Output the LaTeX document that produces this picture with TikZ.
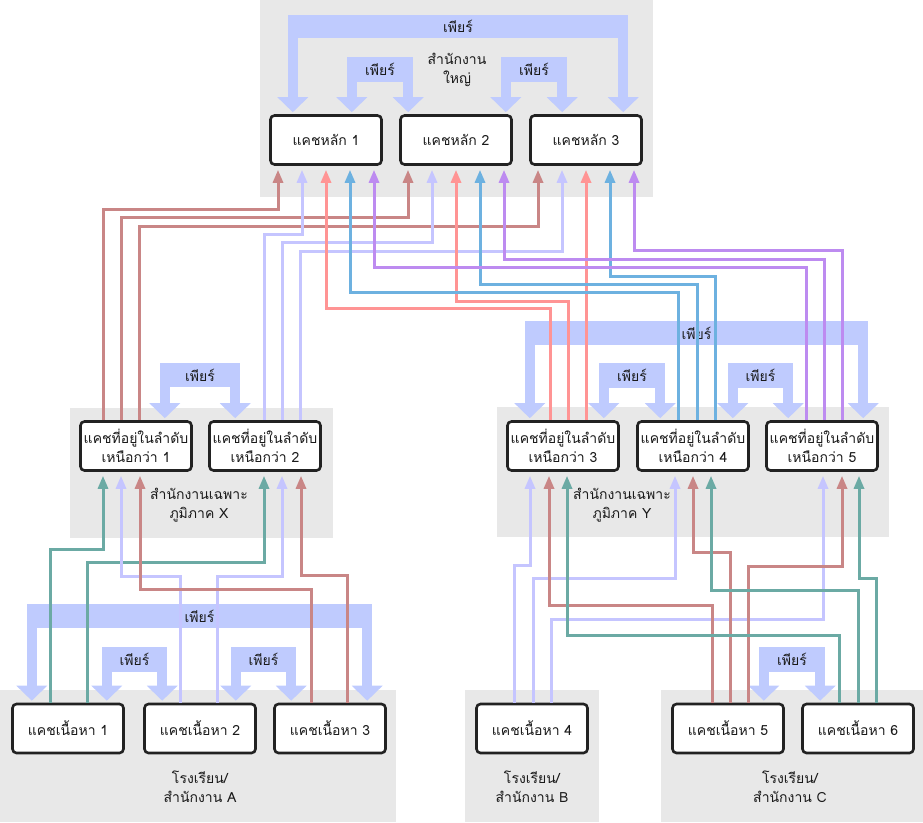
\documentclass[tikz,border=0pt]{standalone}
\usepackage{fontspec}
\setmainfont[Script=Thai]{Loma}
\usetikzlibrary{arrows.meta}

\definecolor{zonegray}{HTML}{E8E8E8}
\definecolor{peerblue}{HTML}{BFCBFE}
\definecolor{boxline}{HTML}{222222}
\definecolor{txtcol}{HTML}{1A1A1A}
\definecolor{crose}{HTML}{C98686}
\definecolor{clav}{HTML}{C5C5FF}
\definecolor{csalmon}{HTML}{FF9494}
\definecolor{cblue}{HTML}{6DB1E0}
\definecolor{cpurple}{HTML}{BD8BF0}
\definecolor{cteal}{HTML}{6BAAA4}

\begin{document}
\begin{tikzpicture}[x=1pt,y=-1pt,font=\fontsize{14}{19}\selectfont,text=txtcol]
	\tikzset{cache/.style={draw=boxline,line width=2.6pt,rounded corners=4pt,fill=white,
		minimum width=111pt,minimum height=49pt,align=center,inner sep=2pt}}
	\tikzset{grp/.style={align=center}}
	\tikzset{peer/.style={fill=peerblue,inner sep=0pt,minimum height=24pt}}
	\tikzset{peerleg/.style={draw=peerblue,line width=10pt,-{Triangle[width=30pt,length=15pt]},shorten >=2pt}}
	\tikzset{link/.style={line width=3pt,{Triangle[width=10pt,length=13pt]}-,shorten <=4pt}}
	\tikzset{lrose/.style={link,color=crose}}
	\tikzset{llav/.style={link,color=clav}}
	\tikzset{lsalmon/.style={link,color=csalmon}}
	\tikzset{lblue/.style={link,color=cblue}}
	\tikzset{lpurple/.style={link,color=cpurple}}
	\tikzset{lteal/.style={link,color=cteal}}

	\useasboundingbox (0,0) rectangle (923,822);

	% grey zones
	\fill[zonegray] (260,0) rectangle (653,197);
	\fill[zonegray] (70,408) rectangle (333,538);
	\fill[zonegray] (497,407) rectangle (889,537);
	\fill[zonegray] (0,690) rectangle (396,822);
	\fill[zonegray] (465,690) rectangle (599,822);
	\fill[zonegray] (661,690) rectangle (923,822);

	\node[grp] (hq) at (457,70) {สำนักงาน\\ใหญ่};
	\node[grp] (rx) at (199,505) {สำนักงานเฉพาะ\\ภูมิภาค X};
	\node[grp] (ry) at (622,505) {สำนักงานเฉพาะ\\ภูมิภาค Y};
	\node[grp] (sa) at (200,787) {โรงเรียน/\\สำนักงาน A};
	\node[grp] (sb) at (532,787) {โรงเรียน/\\สำนักงาน B};
	\node[grp] (sc) at (790,787) {โรงเรียน/\\สำนักงาน C};

	% caches
	\node[cache] (k1) at (326,140) {แคชหลัก 1};
	\node[cache] (k2) at (456,140) {แคชหลัก 2};
	\node[cache] (k3) at (586,140) {แคชหลัก 3};

	\node[cache] (u1) at (136,446) {แคชที่อยู่ในลำดับ\\เหนือกว่า 1};
	\node[cache] (u2) at (265,446) {แคชที่อยู่ในลำดับ\\เหนือกว่า 2};
	\node[cache] (u3) at (563,446) {แคชที่อยู่ในลำดับ\\เหนือกว่า 3};
	\node[cache] (u4) at (693,446) {แคชที่อยู่ในลำดับ\\เหนือกว่า 4};
	\node[cache] (u5) at (822,446) {แคชที่อยู่ในลำดับ\\เหนือกว่า 5};

	\node[cache] (c1) at (68,728.5) {แคชเนื้อหา 1};
	\node[cache] (c2) at (200,728.5) {แคชเนื้อหา 2};
	\node[cache] (c3) at (330,728.5) {แคชเนื้อหา 3};
	\node[cache] (c4) at (532,728.5) {แคชเนื้อหา 4};
	\node[cache] (c5) at (728,728.5) {แคชเนื้อหา 5};
	\node[cache] (c6) at (858,728.5) {แคชเนื้อหา 6};

	% peers
	\node[peer,minimum width=340pt,minimum height=23pt] (p1) at (458,26.5) {เพียร์};
	\draw[peerleg] ([xshift=5pt]p1.west) -- ([xshift=5pt]p1.west |- k1.north);
	\draw[peerleg] ([xshift=-5pt]p1.east) -- ([xshift=-5pt]p1.east |- k3.north);
	\node[peer,minimum width=66pt,minimum height=25pt] (p2) at (380,69.5) {เพียร์};
	\draw[peerleg] ([xshift=5pt]p2.west) -- ([xshift=5pt]p2.west |- k1.north);
	\draw[peerleg] ([xshift=-5pt]p2.east) -- ([xshift=-5pt]p2.east |- k2.north);
	\node[peer,minimum width=66pt,minimum height=25pt] (p3) at (534,69.5) {เพียร์};
	\draw[peerleg] ([xshift=5pt]p3.west) -- ([xshift=5pt]p3.west |- k2.north);
	\draw[peerleg] ([xshift=-5pt]p3.east) -- ([xshift=-5pt]p3.east |- k3.north);

	\node[peer,minimum width=80pt] (p4) at (200,375) {เพียร์};
	\draw[peerleg] ([xshift=5pt]p4.west) -- ([xshift=5pt]p4.west |- u1.north);
	\draw[peerleg] ([xshift=-5pt]p4.east) -- ([xshift=-5pt]p4.east |- u2.north);

	\node[peer,minimum width=343pt] (p5) at (696.5,333) {เพียร์};
	\draw[peerleg] ([xshift=5pt]p5.west) -- ([xshift=5pt]p5.west |- u3.north);
	\draw[peerleg] ([xshift=-5pt]p5.east) -- ([xshift=-5pt]p5.east |- u5.north);
	\node[peer,minimum width=66pt,minimum height=25pt] (p6) at (632,375.5) {เพียร์};
	\draw[peerleg] ([xshift=5pt]p6.west) -- ([xshift=5pt]p6.west |- u3.north);
	\draw[peerleg] ([xshift=-5pt]p6.east) -- ([xshift=-5pt]p6.east |- u4.north);
	\node[peer,minimum width=65pt,minimum height=25pt] (p7) at (760.5,375.5) {เพียร์};
	\draw[peerleg] ([xshift=5pt]p7.west) -- ([xshift=5pt]p7.west |- u4.north);
	\draw[peerleg] ([xshift=-5pt]p7.east) -- ([xshift=-5pt]p7.east |- u5.north);

	\node[peer,minimum width=345pt] (p8) at (199.5,616) {เพียร์};
	\draw[peerleg] ([xshift=5pt]p8.west) -- ([xshift=5pt]p8.west |- c1.north);
	\draw[peerleg] ([xshift=-5pt]p8.east) -- ([xshift=-5pt]p8.east |- c3.north);
	\node[peer,minimum width=65pt,minimum height=25pt] (p9) at (134.5,659.5) {เพียร์};
	\draw[peerleg] ([xshift=5pt]p9.west) -- ([xshift=5pt]p9.west |- c1.north);
	\draw[peerleg] ([xshift=-5pt]p9.east) -- ([xshift=-5pt]p9.east |- c2.north);
	\node[peer,minimum width=65pt,minimum height=25pt] (p10) at (263.5,659.5) {เพียร์};
	\draw[peerleg] ([xshift=5pt]p10.west) -- ([xshift=5pt]p10.west |- c2.north);
	\draw[peerleg] ([xshift=-5pt]p10.east) -- ([xshift=-5pt]p10.east |- c3.north);
	\node[peer,minimum width=66pt,minimum height=25pt] (p11) at (792,659.5) {เพียร์};
	\draw[peerleg] ([xshift=5pt]p11.west) -- ([xshift=5pt]p11.west |- c5.north);
	\draw[peerleg] ([xshift=-5pt]p11.east) -- ([xshift=-5pt]p11.east |- c6.north);

	% upper caches -> core caches
	\draw[lrose] ([xshift=-48pt]k1.south) -- ++(0,44) -| ([xshift=-33pt]u1.north);
	\draw[lrose] ([xshift=-48pt]k2.south) -- ++(0,52) -| ([xshift=-15pt]u1.north);
	\draw[lrose] ([xshift=-48pt]k3.south) -- ++(0,61) -| ([xshift=3pt]u1.north);
	\draw[llav] ([xshift=-24pt]k1.south) -- ++(0,69) -| ([xshift=-1pt]u2.north);
	\draw[llav] ([xshift=-24pt]k2.south) -- ++(0,77) -| ([xshift=17pt]u2.north);
	\draw[llav] ([xshift=-24pt]k3.south) -- ++(0,86) -| ([xshift=35pt]u2.north);
	\draw[lsalmon] (k1.south) -- ++(0,143) -| ([xshift=-13pt]u3.north);
	\draw[lsalmon] (k2.south) -- ++(0,136) -| ([xshift=5pt]u3.north);
	\draw[lsalmon] (k3.south) -- ([xshift=23pt]u3.north);
	\draw[lblue] ([xshift=24pt]k1.south) -- ++(0,127) -| ([xshift=-15pt]u4.north);
	\draw[lblue] ([xshift=24pt]k2.south) -- ++(0,119) -| ([xshift=4pt]u4.north);
	\draw[lblue] ([xshift=24pt]k3.south) -- ++(0,111) -| ([xshift=22pt]u4.north);
	\draw[lpurple] ([xshift=48pt]k1.south) -- ++(0,102) -| ([xshift=-16pt]u5.north);
	\draw[lpurple] ([xshift=48pt]k2.south) -- ++(0,94) -| ([xshift=2pt]u5.north);
	\draw[lpurple] ([xshift=48pt]k3.south) -- ++(0,85) -| ([xshift=20pt]u5.north);

	% content caches -> upper caches
	\draw[lteal] ([xshift=-33pt]u1.south) -- ++(0,78) -| ([xshift=-18pt]c1.north);
	\draw[lteal] ([xshift=-1pt]u2.south) -- ++(0,91) -| ([xshift=19pt]c1.north);
	\draw[llav] ([xshift=-15pt]u1.south) -- ++(0,105) -| ([xshift=-20pt]c2.north);
	\draw[llav] ([xshift=17pt]u2.south) -- ++(0,105) -| ([xshift=17pt]c2.north);
	\draw[lrose] ([xshift=4pt]u1.south) -- ++(0,118) -| ([xshift=-19pt]c3.north);
	\draw[lrose] ([xshift=36pt]u2.south) -- ++(0,104) -| ([xshift=17pt]c3.north);
	\draw[llav] ([xshift=-33pt]u3.south) -- ++(0,94) -| ([xshift=-18pt]c4.north);
	\draw[llav] ([xshift=-18pt]u4.south) -- ++(0,107) -| ([xshift=1pt]c4.north);
	\draw[llav] ([xshift=1pt]u5.south) -- ++(0,148) -| ([xshift=19pt]c4.north);
	\draw[lrose] ([xshift=-14pt]u3.south) -- ++(0,134) -| ([xshift=-16pt]c5.north);
	\draw[lrose] (u4.south) -- ++(0,81) -| ([xshift=2pt]c5.north);
	\draw[lrose] ([xshift=20pt]u5.south) -- ++(0,95) -| ([xshift=20pt]c5.north);
	\draw[lteal] ([xshift=4pt]u3.south) -- ++(0,164) -| ([xshift=-19pt]c6.north);
	\draw[lteal] ([xshift=18pt]u4.south) -- ++(0,119) -| (c6.north);
	\draw[lteal] ([xshift=37pt]u5.south) -- ++(0,107) -| ([xshift=18pt]c6.north);
\end{tikzpicture}
\end{document}
